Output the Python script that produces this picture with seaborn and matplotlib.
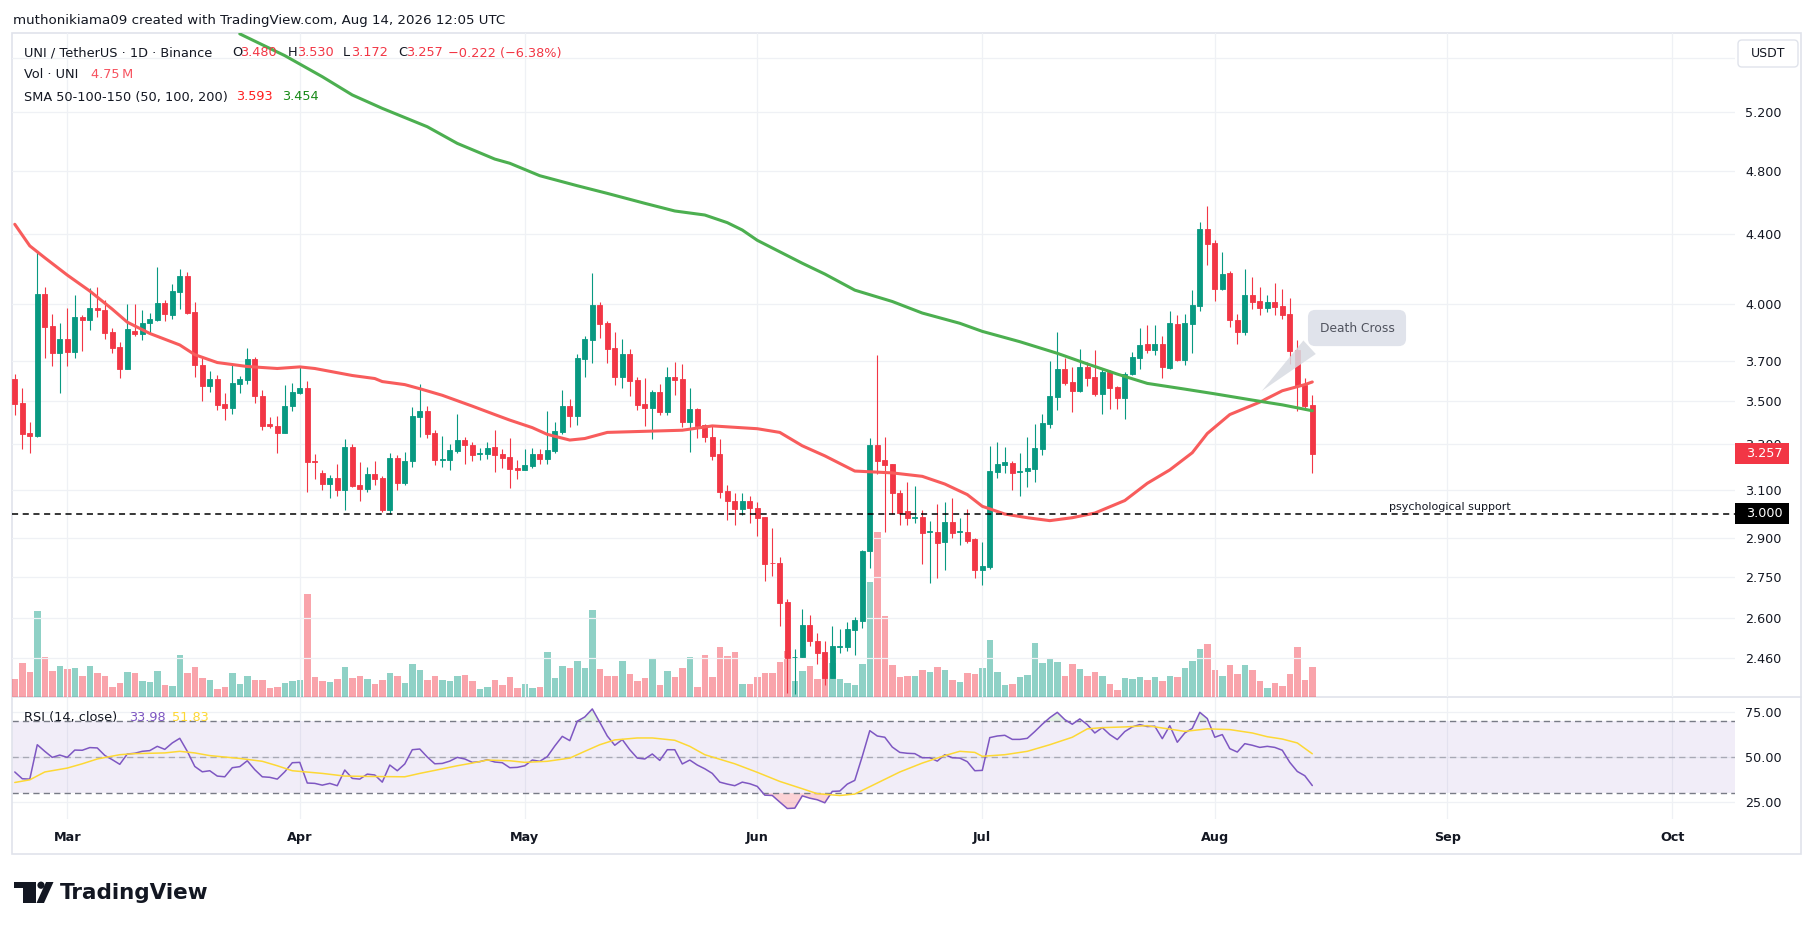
import numpy as np
import pandas as pd
import matplotlib
matplotlib.use("Agg")
import matplotlib.pyplot as plt
import matplotlib.dates as mdates
from matplotlib.patches import Rectangle, FancyBboxPatch, Circle, Polygon
from matplotlib.transforms import Affine2D, blended_transform_factory
from matplotlib.ticker import NullLocator, FixedLocator, FixedFormatter
import seaborn as sns

sns.set_theme(style="white")
plt.rcParams['font.family'] = ['DejaVu Sans']

# ---------------- data ----------------
first_day = "2026-02-22"

opens = [
    3.609, 3.490, 3.351, 3.336, 4.051, 3.878, 3.739,
    3.809, 3.743, 3.927, 3.909, 3.974, 3.968, 3.847, 3.769, 3.658, 3.855,
    3.837, 3.898, 3.910, 4.003, 3.939, 4.067, 4.153, 3.953, 3.679, 3.575,
    3.607, 3.485, 3.467, 3.584, 3.605, 3.706, 3.526, 3.390, 3.381, 3.351, 3.478,
    3.541, 3.565, 3.222, 3.172, 3.126, 3.149, 3.097, 3.287, 3.119, 3.104,
    3.167, 3.149, 3.016, 3.237, 3.127, 3.224, 3.425, 3.452, 3.351, 3.229,
    3.230, 3.269, 3.318, 3.296, 3.254, 3.256, 3.287, 3.256, 3.240, 3.193,
    3.185, 3.203, 3.256, 3.233, 3.269, 3.354, 3.476, 3.430, 3.708, 3.807,
    3.994, 3.896, 3.765, 3.618, 3.733, 3.603, 3.485, 3.467, 3.546, 3.449,
    3.616, 3.607, 3.400, 3.463, 3.385, 3.332, 3.254, 3.094, 3.051, 3.017, 3.054,
    3.025, 2.986, 2.804, 2.804, 2.658, 2.463, 2.466, 2.576, 2.519, 2.483,
    2.396, 2.500, 2.500, 2.558, 2.589, 2.848, 3.296, 3.227, 3.210, 3.085,
    3.009, 2.983, 2.986, 2.926, 2.927, 2.886, 2.966, 2.926, 2.927, 2.897,
    2.778, 2.789, 3.177, 3.207, 3.217, 3.178, 3.182, 3.190, 3.278, 3.392,
    3.519, 3.656, 3.592, 3.550, 3.668, 3.616, 3.533, 3.643, 3.567, 3.515,
    3.631, 3.714, 3.785, 3.755, 3.785, 3.664, 3.890, 3.702, 3.892, 3.989, 4.430,
    4.347, 4.080, 4.171, 3.911, 3.847, 4.047, 4.014, 3.976, 4.007, 3.986,
    3.943, 3.753, 3.579, 3.480,
]
highs = [
    3.631, 3.565, 3.403, 4.295, 4.091, 3.943, 3.896,
    3.976, 4.047, 3.939, 4.086, 4.091, 4.018, 3.867, 3.793, 3.996, 3.998,
    3.964, 3.947, 4.204, 4.018, 4.108, 4.195, 4.177, 4.011, 3.714, 3.647,
    3.626, 3.541, 3.679, 3.622, 3.763, 3.718, 3.556, 3.425, 3.427, 3.577, 3.590,
    3.670, 3.597, 3.254, 3.183, 3.164, 3.210, 3.321, 3.299, 3.219, 3.196,
    3.224, 3.160, 3.261, 3.252, 3.264, 3.470, 3.582, 3.478, 3.363, 3.336,
    3.299, 3.440, 3.332, 3.311, 3.282, 3.309, 3.363, 3.278, 3.326, 3.229,
    3.276, 3.282, 3.278, 3.454, 3.400, 3.552, 3.509, 3.731, 3.827, 4.173,
    4.008, 3.905, 3.847, 3.813, 3.757, 3.620, 3.612, 3.554, 3.584, 3.668,
    3.693, 3.681, 3.565, 3.469, 3.390, 3.383, 3.321, 3.119, 3.084, 3.084, 3.074,
    3.046, 2.986, 2.941, 2.828, 2.669, 2.490, 2.633, 2.610, 2.546, 2.519,
    2.573, 2.562, 2.585, 2.603, 2.854, 3.326, 3.727, 3.332, 3.210, 3.098,
    3.132, 3.116, 3.014, 2.971, 3.038, 3.048, 3.064, 2.983, 3.019, 2.900,
    2.886, 3.292, 3.309, 3.287, 3.222, 3.259, 3.334, 3.392, 3.440, 3.697,
    3.847, 3.712, 3.668, 3.757, 3.695, 3.753, 3.656, 3.651, 3.575, 3.641,
    3.743, 3.870, 3.886, 3.884, 3.827, 3.960, 3.939, 3.943, 4.078, 4.474, 4.574,
    4.363, 4.295, 4.186, 3.943, 4.195, 4.149, 4.095, 4.047, 4.114, 4.084,
    4.030, 3.805, 3.614, 3.530,
]
lows = [
    3.436, 3.278, 3.261, 3.330, 3.714, 3.674, 3.540,
    3.670, 3.714, 3.747, 3.857, 3.929, 3.813, 3.741, 3.612, 3.655, 3.827,
    3.807, 3.841, 3.905, 3.905, 3.919, 3.970, 3.943, 3.616, 3.500, 3.542,
    3.458, 3.409, 3.440, 3.537, 3.582, 3.492, 3.365, 3.374, 3.261, 3.348, 3.454,
    3.535, 3.091, 3.147, 3.100, 3.063, 3.074, 3.016, 3.111, 3.050, 3.091,
    3.119, 3.006, 2.998, 3.098, 3.119, 3.198, 3.330, 3.326, 3.207, 3.198,
    3.185, 3.261, 3.210, 3.224, 3.230, 3.233, 3.177, 3.193, 3.108, 3.147,
    3.183, 3.193, 3.210, 3.210, 3.261, 3.344, 3.380, 3.387, 3.618, 3.689,
    3.817, 3.689, 3.580, 3.565, 3.526, 3.458, 3.383, 3.323, 3.432, 3.432,
    3.528, 3.380, 3.264, 3.326, 3.309, 3.230, 3.063, 2.975, 2.952, 2.995, 2.963,
    2.909, 2.735, 2.754, 2.573, 2.346, 2.343, 2.463, 2.502, 2.442, 2.371,
    2.393, 2.479, 2.485, 2.470, 2.565, 2.783, 3.168, 2.924, 2.998, 2.952,
    2.955, 2.960, 2.801, 2.728, 2.745, 2.778, 2.901, 2.872, 2.881, 2.745,
    2.721, 2.782, 3.150, 3.173, 3.100, 3.071, 3.111, 3.132, 3.249, 3.374,
    3.458, 3.579, 3.449, 3.542, 3.575, 3.524, 3.440, 3.463, 3.461, 3.414,
    3.626, 3.656, 3.737, 3.727, 3.612, 3.656, 3.699, 3.677, 3.741, 3.960, 4.217,
    4.015, 4.073, 3.874, 3.787, 3.831, 3.970, 3.939, 3.955, 3.939, 3.915,
    3.683, 3.454, 3.458, 3.172,
]
closes = [
    3.488, 3.346, 3.336, 4.051, 3.876, 3.739, 3.809,
    3.743, 3.927, 3.909, 3.976, 3.966, 3.843, 3.765, 3.658, 3.863, 3.837,
    3.896, 3.916, 4.005, 3.945, 4.069, 4.153, 3.949, 3.679, 3.575, 3.607,
    3.481, 3.467, 3.588, 3.609, 3.706, 3.526, 3.383, 3.383, 3.351, 3.478, 3.542,
    3.565, 3.220, 3.218, 3.126, 3.149, 3.097, 3.287, 3.116, 3.104, 3.167,
    3.147, 3.016, 3.237, 3.129, 3.224, 3.429, 3.452, 3.346, 3.230, 3.232,
    3.273, 3.318, 3.294, 3.252, 3.261, 3.282, 3.252, 3.239, 3.190, 3.185,
    3.207, 3.254, 3.233, 3.273, 3.358, 3.476, 3.430, 3.712, 3.811, 3.994,
    3.892, 3.761, 3.618, 3.733, 3.599, 3.481, 3.467, 3.542, 3.449, 3.616,
    3.605, 3.400, 3.463, 3.383, 3.330, 3.247, 3.091, 3.051, 3.017, 3.054, 3.022,
    2.983, 2.801, 2.802, 2.655, 2.462, 2.466, 2.576, 2.518, 2.479, 2.396,
    2.501, 2.502, 2.561, 2.592, 2.851, 3.296, 3.226, 3.207, 3.084, 3.003,
    2.983, 2.986, 2.923, 2.929, 2.883, 2.966, 2.923, 2.929, 2.889, 2.778,
    2.792, 3.180, 3.210, 3.219, 3.173, 3.182, 3.193, 3.282, 3.396, 3.524,
    3.656, 3.588, 3.550, 3.668, 3.612, 3.533, 3.643, 3.565, 3.515, 3.631,
    3.718, 3.779, 3.755, 3.785, 3.666, 3.896, 3.704, 3.896, 3.993, 4.430, 4.340,
    4.082, 4.166, 3.909, 3.847, 4.047, 4.009, 3.976, 4.007, 3.980, 3.939,
    3.747, 3.573, 3.476, 3.257,
]
# volume, millions of UNI
volumes = [
    2.93, 5.43, 3.97, 13.7, 6.34, 4.15, 4.94,
    4.51, 4.64, 3.36, 4.94, 3.84, 3.36, 1.59, 2.20, 3.97, 3.84,
    2.56, 2.38, 4.15, 1.89, 1.77, 6.71, 3.84, 4.76, 2.99, 2.68,
    1.28, 1.59, 3.84, 2.07, 3.36, 2.68, 2.68, 1.40, 1.59, 2.20, 2.56,
    2.68, 16.4, 3.17, 2.56, 2.38, 2.87, 4.76, 2.99, 3.36, 2.87,
    2.07, 2.68, 3.84, 3.36, 2.20, 5.25, 4.27, 2.68, 3.36, 2.68,
    2.56, 3.36, 3.48, 2.56, 1.28, 1.59, 2.68, 1.89, 3.17, 1.40,
    2.07, 1.40, 1.59, 7.14, 2.99, 4.94, 4.64, 5.73, 4.64, 13.85,
    4.45, 3.36, 3.36, 5.73, 3.66, 2.56, 2.99, 6.22, 1.89, 4.15,
    3.17, 4.64, 6.34, 1.59, 6.71, 3.17, 7.93, 6.53, 7.14, 2.07, 2.07,
    3.17, 3.84, 3.84, 5.55, 7.32, 2.56, 4.15, 4.94, 2.87, 3.84,
    5.43, 2.87, 2.20, 1.89, 5.25, 18.3, 26.3, 12.9, 5.06, 3.17,
    3.36, 3.36, 4.27, 3.97, 4.76, 4.27, 2.68, 2.38, 3.84, 3.66,
    4.64, 9.09, 3.97, 1.89, 2.07, 3.17, 3.48, 8.60, 5.43, 6.22,
    5.55, 3.36, 5.25, 4.45, 3.36, 3.97, 3.36, 2.07, 1.10, 2.99,
    2.87, 3.17, 2.68, 3.17, 2.56, 3.36, 3.17, 4.64, 5.73, 7.63, 8.42,
    4.27, 3.36, 5.06, 3.66, 5.06, 4.27, 2.56, 1.40, 2.20, 1.77,
    3.66, 7.93, 2.68, 4.75,
]
rsi_values = [
    41.6, 37.8, 37.6, 56.9, 53.2, 49.8, 51.1,
    49.8, 53.9, 53.8, 55.3, 55.1, 50.9, 48.5, 45.9, 51.7, 52.1,
    53.2, 53.6, 56.0, 54.3, 57.9, 60.5, 53.2, 44.7, 41.7, 42.3,
    39.3, 38.9, 44.0, 44.6, 47.9, 42.9, 38.9, 38.6, 37.6, 41.7, 46.8,
    47.0, 35.4, 35.2, 34.2, 35.2, 33.9, 42.7, 38.0, 37.6, 40.4,
    39.9, 35.9, 45.5, 42.3, 46.1, 54.1, 54.5, 50.0, 46.2, 46.4,
    47.7, 49.8, 48.9, 47.0, 47.4, 48.5, 47.2, 46.8, 44.0, 44.2,
    45.1, 48.3, 47.6, 50.2, 56.2, 61.6, 59.2, 70.1, 72.5, 77.0,
    69.5, 61.8, 56.6, 59.8, 54.1, 49.4, 48.9, 51.7, 48.1, 54.1,
    54.1, 46.1, 48.3, 45.5, 43.4, 40.8, 35.9, 34.8, 33.9, 35.9, 35.0,
    33.5, 28.6, 28.4, 24.7, 21.1, 21.3, 28.2, 26.9, 26.0, 24.3,
    30.7, 30.9, 34.8, 36.9, 50.4, 64.8, 61.8, 61.1, 55.6, 52.6,
    52.1, 51.9, 49.6, 49.6, 47.7, 51.3, 49.6, 49.4, 47.4, 42.3,
    42.5, 60.9, 61.8, 62.2, 59.9, 59.9, 60.5, 64.3, 68.4, 72.1,
    75.1, 71.0, 68.4, 71.4, 68.2, 63.5, 66.5, 62.6, 59.8, 64.3,
    66.9, 68.2, 67.1, 67.3, 60.3, 67.6, 58.3, 63.5, 66.1, 75.1, 71.6,
    61.1, 62.6, 54.7, 52.8, 57.5, 56.6, 55.4, 56.0, 55.4, 53.8,
    47.0, 41.9, 39.5, 33.98,
]

sma100_dates = ["2026-02-22", "2026-02-24", "2026-02-26", "2026-03-01", "2026-03-04", "2026-03-07",
                "2026-03-09", "2026-03-12", "2026-03-16", "2026-03-18", "2026-03-21", "2026-03-25",
                "2026-03-29", "2026-04-01", "2026-04-03", "2026-04-08", "2026-04-11", "2026-04-12",
                "2026-04-15", "2026-04-17", "2026-04-20", "2026-04-24", "2026-04-27", "2026-04-29",
                "2026-05-02", "2026-05-04", "2026-05-07", "2026-05-09", "2026-05-12", "2026-05-17",
                "2026-05-22", "2026-05-26", "2026-06-01", "2026-06-04", "2026-06-07", "2026-06-10",
                "2026-06-14", "2026-06-19", "2026-06-23", "2026-06-26", "2026-06-29", "2026-07-01",
                "2026-07-04", "2026-07-07", "2026-07-10", "2026-07-13", "2026-07-16", "2026-07-20",
                "2026-07-23", "2026-07-26", "2026-07-29", "2026-07-31", "2026-08-03", "2026-08-07",
                "2026-08-10", "2026-08-13", "2026-08-14"]
sma100_values = [4.46, 4.33, 4.26, 4.16, 4.07, 3.97,
                 3.90, 3.84, 3.78, 3.73, 3.69, 3.67,
                 3.66, 3.668, 3.66, 3.625, 3.61, 3.595,
                 3.58, 3.56, 3.528, 3.476, 3.436, 3.41,
                 3.375, 3.344, 3.318, 3.325, 3.353, 3.358,
                 3.363, 3.383, 3.370, 3.353, 3.292, 3.247,
                 3.180, 3.172, 3.157, 3.124, 3.079, 3.030,
                 2.998, 2.983, 2.971, 2.983, 3.002, 3.054,
                 3.127, 3.185, 3.261, 3.348, 3.436, 3.495,
                 3.550, 3.580, 3.593]

sma200_dates = ["2026-03-24", "2026-03-30", "2026-04-04", "2026-04-08", "2026-04-12", "2026-04-18",
                "2026-04-22", "2026-04-27", "2026-04-29", "2026-05-03", "2026-05-08", "2026-05-12",
                "2026-05-17", "2026-05-21", "2026-05-25", "2026-05-28", "2026-05-30", "2026-06-01",
                "2026-06-07", "2026-06-10", "2026-06-14", "2026-06-19", "2026-06-23", "2026-06-28",
                "2026-07-01", "2026-07-06", "2026-07-11", "2026-07-15", "2026-07-19", "2026-07-23",
                "2026-07-28", "2026-08-01", "2026-08-06", "2026-08-10", "2026-08-14"]
sma200_values = [5.79, 5.62, 5.46, 5.325, 5.228, 5.098,
                 4.983, 4.877, 4.849, 4.767, 4.702, 4.653,
                 4.590, 4.542, 4.517, 4.470, 4.425, 4.363,
                 4.228, 4.166, 4.075, 4.012, 3.949, 3.894,
                 3.851, 3.797, 3.737, 3.683, 3.632, 3.586,
                 3.558, 3.535, 3.505, 3.482, 3.454]

rsi_ma_dates = ["2026-02-22", "2026-02-24", "2026-02-26", "2026-03-01", "2026-03-03", "2026-03-05",
                "2026-03-08", "2026-03-10", "2026-03-14", "2026-03-16", "2026-03-18", "2026-03-20",
                "2026-03-24", "2026-03-27", "2026-03-29", "2026-03-31", "2026-04-04", "2026-04-07",
                "2026-04-10", "2026-04-15", "2026-04-17", "2026-04-19", "2026-04-22", "2026-04-24",
                "2026-04-26", "2026-04-29", "2026-05-01", "2026-05-04", "2026-05-07", "2026-05-09",
                "2026-05-11", "2026-05-13", "2026-05-16", "2026-05-18", "2026-05-21", "2026-05-23",
                "2026-05-25", "2026-05-29", "2026-06-01", "2026-06-04", "2026-06-07", "2026-06-09",
                "2026-06-12", "2026-06-14", "2026-06-17", "2026-06-20", "2026-06-23", "2026-06-26",
                "2026-06-28", "2026-06-30", "2026-07-01", "2026-07-04", "2026-07-07", "2026-07-10",
                "2026-07-13", "2026-07-15", "2026-07-17", "2026-07-20", "2026-07-23", "2026-07-25",
                "2026-07-28", "2026-07-31", "2026-08-03", "2026-08-06", "2026-08-08", "2026-08-10",
                "2026-08-12", "2026-08-14"]
rsi_ma_values = [35.7, 37.2, 41.6, 43.8, 46.2, 48.9,
                 51.3, 51.9, 52.3, 53.2, 52.3, 50.8,
                 49.2, 47.6, 45.1, 42.3, 40.8, 39.3,
                 39.1, 38.9, 40.8, 42.5, 45.1, 46.6,
                 48.3, 47.9, 47.0, 47.6, 49.4, 53.2,
                 56.9, 59.6, 60.7, 60.7, 59.4, 56.0,
                 51.3, 46.2, 41.4, 36.3, 32.2, 29.4,
                 28.4, 29.2, 35.4, 41.6, 46.6, 50.8,
                 53.2, 52.6, 50.4, 51.3, 53.2, 56.9,
                 61.1, 65.8, 66.5, 66.9, 67.6, 66.3,
                 64.4, 65.8, 65.4, 63.5, 61.4, 60.1,
                 57.9, 51.83]

price_ticks = [2.46, 2.6, 2.75, 2.9, 3.1, 3.3, 3.5, 3.7, 4.0, 4.4, 4.8, 5.2, 5.6]
rsi_ticks = [25, 50, 75]
support_level = 3.0
last_close = 3.257

# ---------------- layout helpers (pixel coordinates, y from top) ----------------
W, H = 1814, 930
fig = plt.figure(figsize=(W / 100, H / 100), dpi=100)
px = Affine2D().scale(1 / W, -1 / H).translate(0, 1) + fig.transFigure


def rect(x0, y0, x1, y1):
    return [x0 / W, 1 - y1 / H, (x1 - x0) / W, (y1 - y0) / H]


UP, DOWN = "#089981", "#f23645"
GRID = "#eff1f5"
TXT = "#131722"

ax = fig.add_axes(rect(12, 33, 1735, 697))
axv = ax.twinx()
axr = fig.add_axes(rect(12, 697, 1735, 819), sharex=ax)
ax.set_zorder(3)
axv.set_zorder(2)
ax.patch.set_visible(False)

dates = pd.date_range(first_day, periods=len(opens), freq="D")
x = mdates.date2num(dates.to_pydatetime())
o, h, l, c = map(np.array, (opens, highs, lows, closes))
up = c >= o
cols = np.where(up, UP, DOWN)

# volume overlay
axv.bar(x, volumes, width=0.86, color=cols, alpha=0.45, lw=0)
axv.set_ylim(0, 105.7)
axv.axis("off")

# candles
ax.set_yscale("log")
ax.vlines(x, l, h, colors=cols, lw=0.8, zorder=3)
ax.bar(x, np.abs(c - o), bottom=np.minimum(o, c), width=0.66, color=cols,
       edgecolor=cols, lw=0.6, zorder=3.1)

# moving averages
sns.lineplot(x=mdates.date2num(pd.to_datetime(sma100_dates)), y=sma100_values, ax=ax,
             color="#f85c5c", lw=2.2, zorder=4)
sns.lineplot(x=mdates.date2num(pd.to_datetime(sma200_dates)), y=sma200_values, ax=ax,
             color="#4caf50", lw=2.2, zorder=4)

ax.axhline(support_level, color="black", lw=1.1, ls=(0, (4, 3)), zorder=4.5)

# RSI pane
rsi = np.array(rsi_values)
axr.axhspan(30, 70, color="#7e57c2", alpha=0.1, lw=0)
for lvl, a in [(70, 1.0), (50, 0.55), (30, 1.0)]:
    axr.axhline(lvl, color="#787b86", lw=1, ls=(0, (4.5, 3)), alpha=a)
axr.fill_between(x, rsi, 70, where=rsi > 70, interpolate=True, color="#4caf50", alpha=0.15, lw=0)
axr.fill_between(x, rsi, 30, where=rsi < 30, interpolate=True, color="#f23645", alpha=0.22, lw=0)
sns.lineplot(x=x, y=rsi, ax=axr, color="#7e57c2", lw=1.1)
sns.lineplot(x=mdates.date2num(pd.to_datetime(rsi_ma_dates)), y=rsi_ma_values, ax=axr,
             color="#fdd835", lw=1.1)

# axes, ticks, grids
mar1 = mdates.date2num(pd.Timestamp("2026-03-01"))
ax.set_xlim(mar1 - 7.37, mar1 + 222.36)
ax.set_ylim(2.333, 5.797)
axr.set_ylim(15.2, 83.7)

months = pd.date_range("2026-03-01", "2026-10-01", freq="MS")
axr.set_xticks(mdates.date2num(months.to_pydatetime()))
axr.set_xticklabels(months.strftime("%b"), fontweight="bold", fontsize=9.2, color=TXT)
axr.tick_params(axis="x", length=0, pad=8.3)
ax.tick_params(axis="x", length=0, labelbottom=False)

ax.yaxis.set_major_locator(FixedLocator(price_ticks))
ax.yaxis.set_major_formatter(FixedFormatter([f"{t:.3f}" if t < 5.5 else "" for t in price_ticks]))
ax.yaxis.set_minor_locator(NullLocator())
ax.yaxis.tick_right()
ax.tick_params(axis="y", length=0, pad=7.2, labelsize=9.2, labelcolor=TXT)

axr.set_yticks(rsi_ticks)
axr.set_yticklabels([f"{t:.2f}" for t in rsi_ticks])
axr.yaxis.tick_right()
axr.tick_params(axis="y", length=0, pad=7.2, labelsize=9.2, labelcolor=TXT)

for a in (ax, axr):
    a.grid(True, color=GRID, lw=0.9)
    a.set_xlabel("")
    a.set_ylabel("")
    for s in a.spines.values():
        s.set_visible(False)

# price tags on the scale
tr = blended_transform_factory(fig.transFigure, ax.transData)
k = 1.0145
for val, fc in [(last_close, DOWN), (support_level, "black")]:
    ax.add_patch(Rectangle((1735 / W, val / k), 54 / W, val * k - val / k, transform=tr,
                           fc=fc, ec="none", clip_on=False, zorder=6))
    ax.text(1764 / W, val, f"{val:.3f}", transform=tr, ha="center", va="center",
            color="white", fontsize=9.2, clip_on=False, zorder=7)

# annotations
ax.annotate("psychological support", xy=(mdates.date2num(pd.Timestamp("2026-08-24 05:00")), support_level),
            xytext=(0, 1.0), textcoords="offset points", ha="left", va="bottom",
            fontsize=8, color=TXT, zorder=5)
ax.annotate("Death Cross", xy=(mdates.date2num(pd.Timestamp("2026-08-07")), 3.54),
            xytext=(1357, H - 328), textcoords="figure pixels", ha="center", va="center",
            fontsize=8.8, color="#50535e", zorder=6, annotation_clip=False,
            bbox=dict(boxstyle="round,pad=0.95,rounding_size=0.6", fc="#e0e3eb", ec="none"),
            arrowprops=dict(arrowstyle="wedge,tail_width=1.5,shrink_factor=0.5",
                            fc="#d8dbe2", ec="none", alpha=0.85, relpos=(0.1, 0.25)))

# frame
fig.add_artist(Rectangle((12, 33), 1789, 821, transform=px, fill=False, ec="#e0e3eb", lw=1.2))
fig.add_artist(plt.Line2D([12, 1801], [697, 697], transform=px, color="#e0e3eb", lw=1.2))

# USDT button
fig.add_artist(FancyBboxPatch((1738, 40), 60, 27, boxstyle="round,pad=0,rounding_size=4",
                              transform=px, fc="white", ec="#e0e3eb", lw=1))
fig.text(1768, 53.5, "USDT", transform=px, ha="center", va="center", fontsize=9, color=TXT)

# header lines
fig.text(13, 20.5, "muthonikiama09 created with TradingView.com, Aug 14, 2026 12:05 UTC",
         transform=px, va="center", fontsize=9.6, color=TXT)


def legend_piece(xp, yp, s, col=TXT, size=9.3):
    fig.text(xp, yp, s, transform=px, va="center", fontsize=size, color=col)


legend_piece(23.7, 53, "UNI / TetherUS · 1D · Binance")
legend_piece(232, 53, "O")
legend_piece(240.5, 53, "3.480", DOWN)
legend_piece(287.5, 53, "H")
legend_piece(297, 53, "3.530", DOWN)
legend_piece(343, 53, "L")
legend_piece(351, 53, "3.172", DOWN)
legend_piece(398, 53, "C")
legend_piece(406.5, 53, "3.257", DOWN)
legend_piece(448, 53, "\u22120.222 (\u22126.38%)", DOWN)
legend_piece(23.7, 75, "Vol · UNI")
legend_piece(90.7, 75, "4.75\u2009M", "#f7525f")
legend_piece(23.7, 97, "SMA 50-100-150 (50, 100, 200)")
legend_piece(236, 97, "3.593", "#ff1f1f")
legend_piece(282.4, 97, "3.454", "#168a16")
legend_piece(23.5, 717, "RSI (14, close)")
legend_piece(128.7, 717, "33.98", "#7e57c2")
legend_piece(171.6, 717, "51.83", "#fdd835")

# TradingView logo
fig.add_artist(Rectangle((14.4, 882), 21.2, 6, transform=px, fc=TXT, ec="none"))
fig.add_artist(Rectangle((23, 882), 12.6, 21, transform=px, fc=TXT, ec="none"))
fig.add_artist(Circle((41, 885.2), 3.6, transform=px, fc=TXT, ec="none"))
fig.add_artist(Polygon([(46, 882), (53.5, 882), (44, 903), (36.5, 903)], closed=True,
                       transform=px, fc=TXT, ec="none"))
fig.text(60, 893, "TradingView", transform=px, va="center", ha="left",
         fontsize=15.5, fontweight="bold", color=TXT)

fig.savefig("out.png", dpi=100)
